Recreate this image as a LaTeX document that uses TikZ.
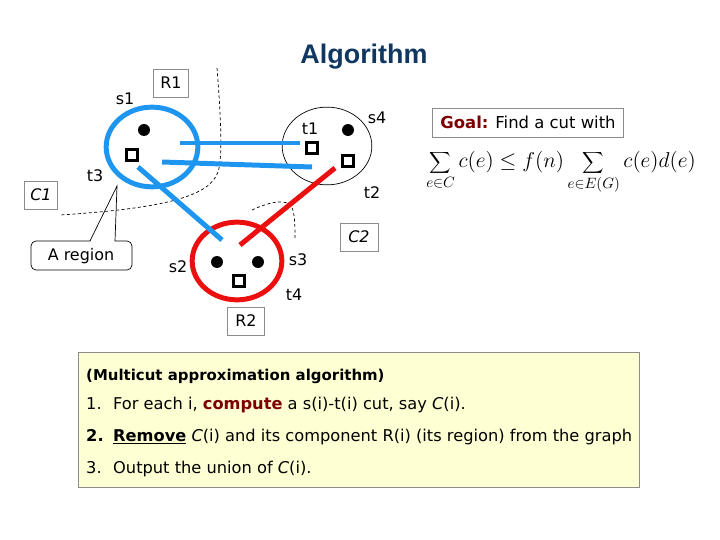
\documentclass[tikz,border=0pt]{standalone}
\usepackage{fontspec}
\setmainfont{DejaVu Sans}
\newfontfamily\titlefont{Liberation Sans}
\usetikzlibrary{shapes.geometric}
\definecolor{myblue}{RGB}{30,150,240}
\definecolor{myred}{RGB}{235,15,15}
\definecolor{navy}{RGB}{15,55,95}
\definecolor{goalred}{RGB}{125,0,0}
\definecolor{boxyellow}{RGB}{255,255,212}
\definecolor{boxgray}{RGB}{140,140,140}
\begin{document}
\begin{tikzpicture}[x=1bp,y=-1bp,
  lbl/.style={font=\fontsize{16}{19}\selectfont, inner sep=0},
  tagbox/.style={draw=boxgray, line width=0.8, font=\fontsize{16}{19}\selectfont, minimum width=35, minimum height=28, inner sep=0},
  dot/.style={circle, fill=black, inner sep=0, minimum size=12},
  sq/.style={rectangle, draw=black, line width=3, fill=white, inner sep=0, minimum size=11},
  region/.style={ellipse, draw, inner sep=0},
  bluee/.style={myblue, line width=5},
  rede/.style={myred, line width=5},
  cutline/.style={black, line width=0.7, dash pattern=on 3bp off 2.5bp},
  txt/.style={anchor=west, inner sep=0, font=\fontsize{16.3}{19}\selectfont}
]
\useasboundingbox (0,0) rectangle (720,540);

% title
\node[font=\titlefont\bfseries\fontsize{27}{31}\selectfont, text=navy] (title) at (364,57) {Algorithm};

% cuts (dashed)
\draw[cutline] (217,68) .. controls (222,130) and (222,160) .. (218,172)
   .. controls (210,195) and (170,208) .. (60,215);
\draw[cutline] (252,210) .. controls (265,204) and (280,199) .. (290,204)
   .. controls (295,210) and (295,225) .. (295,238);

% regions
\node[region, myblue, line width=5, minimum width=92, minimum height=80] (reg1) at (152,147) {};
\node[region, black, line width=0.7, minimum width=90, minimum height=78] (reg4) at (327,146) {};
\node[region, myred, line width=5, minimum width=90, minimum height=78] (reg2) at (237,261) {};

% edge end points
\coordinate (a1) at (180,143);
\coordinate (b1) at (300,143);
\coordinate (a2) at (162,162);
\coordinate (b2) at (312,167);
\coordinate (a3) at (138,167);
\coordinate (b3) at (222,240);
\coordinate (a4) at (335,168);
\coordinate (b4) at (240,245);
\draw[bluee] (a1) -- (b1);
\draw[bluee] (a2) -- (b2);
\draw[bluee] (a3) -- (b3);
\draw[rede] (a4) -- (b4);

% terminals
\node[dot] (s1) at (144,130) {};
\node[sq]  (t3) at (132,155) {};
\node[sq]  (t1) at (312,148) {};
\node[dot] (s4) at (348,130) {};
\node[sq]  (t2) at (348,161) {};
\node[dot] (s2) at (217,262) {};
\node[dot] (s3) at (258,262) {};
\node[sq]  (t4) at (239,281) {};

% labels
\node[lbl] (ls1) at (125,99) {s1};
\node[lbl] (lt3) at (95,176) {t3};
\node[lbl] (lt1) at (310,129) {t1};
\node[lbl] (ls4) at (377,118) {s4};
\node[lbl] (lt2) at (372,193) {t2};
\node[lbl] (ls2) at (178,267) {s2};
\node[lbl] (ls3) at (298,260) {s3};
\node[lbl] (lt4) at (294,295) {t4};

\node[tagbox] (R1) at (171,83) {R1};
\node[tagbox, minimum width=33] (C1) at (41,195) {\itshape C1};
\node[tagbox, minimum width=38] (C2) at (359,237) {\itshape C2};
\node[tagbox, minimum width=37] (R2) at (246,321) {R2};

% callout
\node[lbl] (areg) at (81,256) {A region};
\coordinate (tip) at (117,186);
\draw[black, line width=0.7] (tip) -- (115,241) -- (127,241)
  [rounded corners=5] -- (132,241) -- (132,270) -- (31,270) -- (31,241)
  [sharp corners] -- (90,241) -- cycle;

% goal
\node[draw=boxgray, line width=0.8, minimum width=192, minimum height=29, inner sep=0,
  font=\fontsize{16.5}{19}\selectfont] (goal) at (528,122.5)
  {\textcolor{goalred}{\bfseries Goal:} Find a cut with};
\node[inner sep=0] (formula) at (561,172)
  {\scalebox{1.5}{\fontsize{14}{17}\selectfont$\displaystyle \sum_{e\in C} c(e) \le f(n) \sum_{e\in E(G)} c(e)d(e)$}};

% algorithm box
\node[draw=boxgray, line width=1, fill=boxyellow, minimum width=563, minimum height=135,
  anchor=north west, inner sep=0] (algbox) at (78,352) {};
\node[txt, font=\bfseries\fontsize{15}{18}\selectfont] (head) at (86,376) {(Multicut approximation algorithm)};
\node[txt] (l1) at (86,405) {\makebox[27bp][l]{1.}For each i, \textcolor{goalred}{\bfseries compute} a s(i)-t(i) cut, say \textit{C}(i).};
\node[txt] (l2) at (86,437) {\makebox[27bp][l]{\bfseries 2.}\underline{\bfseries Remove} \textit{C}(i) and its component R(i) (its region) from the graph};
\node[txt] (l3) at (86,469) {\makebox[27bp][l]{3.}Output the union of \textit{C}(i).};
\end{tikzpicture}
\end{document}
